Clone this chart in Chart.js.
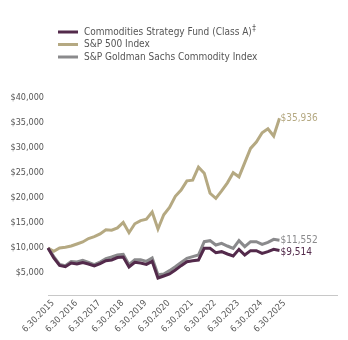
<!DOCTYPE html>
<html>
<head>
<meta charset="utf-8">
<script src="https://cdn.jsdelivr.net/npm/chart.js@4.4.1/dist/chart.umd.min.js"></script>
<style>
  html, body { margin: 0; padding: 0; background: #fff; }
  canvas { display: block; }
</style>
</head>
<body>
<canvas id="grafica" width="348" height="340"></canvas>
<script>
// Etiquetas de año (una cada 4 trimestres)
const yearLabels = ['6.30.2015', '6.30.2016', '6.30.2017', '6.30.2018', '6.30.2019', '6.30.2020',
    '6.30.2021', '6.30.2022', '6.30.2023', '6.30.2024', '6.30.2025'];

const yTicks = [5000, 10000, 15000, 20000, 25000, 30000, 35000, 40000];

const seriesNames = ['Commodities Strategy Fund (Class A)‡', 'S&P 500 Index', 'S&P Goldman Sachs Commodity Index'];
const seriesColors = ['#532a4b', '#b5a982', '#8a8a8c'];

// Valores trimestrales (crecimiento de $10,000)
const fundValues = [10000, 8000, 6500, 6270, 7000, 6800, 7100, 6800, 6400, 6870,
    7470, 7600, 8100, 8200, 6200, 7130, 7000, 6730, 7330, 4000,
    4400, 4800, 5600, 6470, 7270, 7470, 7600, 9930, 9930, 9070,
    9270, 8800, 8400, 9730, 8600, 9470, 9470, 8930, 9270, 9730, 9514];

const sp500Values = [10000, 9356, 10015, 10150, 10400, 10800, 11213, 11893, 12261, 12810,
    13661, 13557, 14022, 15103, 13061, 14844, 15482, 15745, 17173, 13807,
    16643, 18129, 20332, 21586, 23432, 23568, 26168, 24964, 20945, 19923,
    21429, 23036, 25050, 24231, 27064, 29922, 31203, 33041, 33837, 32392, 35936];

const gsciValues = [10000, 8270, 6730, 6470, 7270, 7200, 7530, 7130, 6670, 7200,
    7870, 8200, 8600, 8730, 6670, 7670, 7670, 7330, 8000, 4670,
    4800, 5470, 6270, 7130, 7930, 8270, 8600, 11270, 11470, 10600,
    10930, 10400, 9930, 11470, 10270, 11270, 11270, 10730, 11130, 11730, 11552];

const endLabels = ['$9,514', '$35,936', '$11,552'];

// categorías: 41 trimestres + espacio vacío a la derecha
const labels = [];
for (let i = 0; i < 51; i++) {
    labels.push(i % 4 === 0 && i / 4 < yearLabels.length ? yearLabels[i / 4] : '');
}

const FONT = "'Liberation Sans Narrow', 'DejaVu Sans Condensed', 'Liberation Sans', sans-serif";
const TEXT_COLOR = '#555555';

// Leyenda y etiquetas finales dibujadas a mano
const extras = {
    id: 'extras',
    afterDraw(chart) {
        const ctx = chart.ctx;
        ctx.save();
        // leyenda
        seriesNames.forEach((name, k) => {
            const y = 32 + k * 12.5;
            ctx.strokeStyle = seriesColors[k];
            ctx.lineWidth = 3;
            ctx.beginPath();
            ctx.moveTo(58, y);
            ctx.lineTo(78, y);
            ctx.stroke();
            ctx.fillStyle = TEXT_COLOR;
            ctx.font = '10px ' + FONT;
            ctx.textBaseline = 'middle';
            ctx.textAlign = 'left';
            let texto = name;
            const sup = texto.endsWith('‡');
            if (sup) texto = texto.slice(0, -1);
            ctx.fillText(texto, 84, y);
            if (sup) {
                const w = ctx.measureText(texto).width;
                ctx.font = '8px ' + FONT;
                ctx.fillText('‡', 84 + w + 0.5, y - 3);
            }
        });
        // valores finales
        [0, 1, 2].forEach(k => {
            const meta = chart.getDatasetMeta(k);
            const pt = meta.data[meta.data.length - 1];
            ctx.fillStyle = seriesColors[k];
            ctx.font = '10px ' + FONT;
            ctx.textAlign = 'left';
            ctx.textBaseline = 'middle';
            const dy = k === 0 ? 2 : 0;
            ctx.fillText(endLabels[k], pt.x + 1, pt.y + dy);
        });
        ctx.restore();
    }
};

new Chart(document.getElementById('grafica').getContext('2d'), {
    type: 'line',
    data: {
        labels: labels,
        datasets: [
            { label: seriesNames[0], data: fundValues, borderColor: seriesColors[0], order: 0 },
            { label: seriesNames[1], data: sp500Values, borderColor: seriesColors[1], order: 2 },
            { label: seriesNames[2], data: gsciValues, borderColor: seriesColors[2], order: 1 },
        ],
    },
    options: {
        responsive: false,
        animation: false,
        layout: { padding: { top: 98, right: 0, left: 0, bottom: 0 } },
        elements: {
            line: { borderWidth: 3, tension: 0, fill: false },
            point: { radius: 0 },
        },
        plugins: {
            legend: { display: false },
            tooltip: { enabled: false },
        },
        scales: {
            x: {
                grid: { display: false, drawTicks: false },
                border: { display: true, color: '#c8c8c8', width: 1 },
                ticks: {
                    autoSkip: false,
                    maxRotation: 45,
                    minRotation: 45,
                    color: TEXT_COLOR,
                    font: { family: FONT, size: 9 },
                    padding: 3,
                    labelOffset: 5,
                },
                afterFit: scale => { scale.height = 45; },
            },
            y: {
                min: 600,
                max: 40000,
                grid: { display: false, drawTicks: false },
                border: { display: false },
                ticks: {
                    color: TEXT_COLOR,
                    font: { family: FONT, size: 9 },
                    padding: 4,
                    callback: v => '$' + v.toLocaleString('en-US'),
                },
                afterBuildTicks: scale => { scale.ticks = yTicks.map(v => ({ value: v })); },
                afterFit: scale => { scale.width = 48; },
            },
        },
    },
    plugins: [extras],
});
</script>
</body>
</html>
